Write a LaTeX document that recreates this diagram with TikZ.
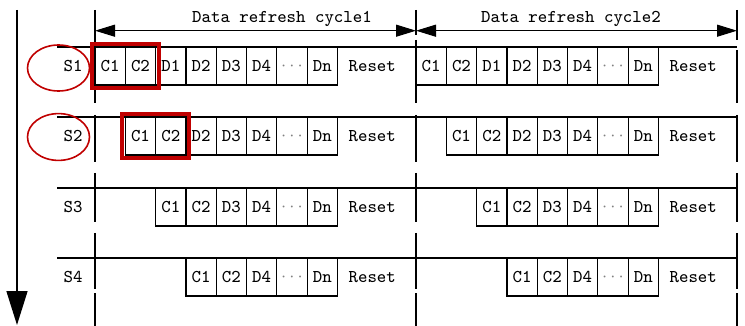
\documentclass[tikz,border=0pt]{standalone}
\usetikzlibrary{positioning,arrows.meta}
\definecolor{hired}{HTML}{C00000}
\tikzset{
  cell/.style={draw, minimum width=15.15pt, minimum height=19pt, inner sep=0pt, outer sep=0pt, font=\ttfamily\fontsize{9}{10}\selectfont},
  txt/.style={inner sep=0pt, font=\ttfamily\fontsize{9}{10}\selectfont},
  hilite/.style={draw=hired, line width=2pt},
  ring/.style={draw=hired, line width=0.8pt},
  span/.style={{Triangle[length=10pt,width=6pt]}-{Triangle[length=10pt,width=6pt]}},
}
\newcommand\dd{\textcolor{gray}{$\cdots$}}
% one row of slots: name, left edge, top, texts
\newcommand\cellrow[4]{%
  \foreach \ct [count=\i] in {#4}
    \node[cell, anchor=north west] (#1-\i) at ({#2+(\i-1)*30.3},#3) {\ct};}

\begin{document}
\begin{tikzpicture}[x=0.5pt, y=-0.5pt, line width=0.6pt]
  \useasboundingbox (0,0) rectangle (745,326);

  % time axis
  \coordinate (top) at (17,10);
  \coordinate (bot) at (17,325);
  \draw[line width=0.75pt, -{Triangle[length=17pt,width=10.5pt]}] (top) -- (bot);

  % cycle borders
  \foreach \y/\z in {10/103,115/162,173/222,233/289,293/326}
    \draw (95,\y) -- (95,\z);
  \foreach \y/\z in {10/35,40/103,115/162,173/222,233/289,293/326}
    \draw (416,\y) -- (416,\z);
  \foreach \y/\z in {10/40,50/103,115/162,173/222,233/289,293/326}
    \draw (737,\y) -- (737,\z);

  % cycle headers
  \coordinate (c0) at (95,30.7);
  \coordinate (c1) at (416,30.7);
  \coordinate (c2) at (737,30.7);
  \draw[span] (c0) -- (c1);
  \draw[span] (c1) -- (c2);
  \node[txt] (h1) at (282,19) {Data refresh cycle1};
  \node[txt] (h2) at (571,19) {Data refresh cycle2};

  % row lines
  \foreach \y in {47,117,188,258}
    \draw (57,\y) -- (737,\y);

  % strips
  \node[txt] (s1) at (73,66) {S1};
  \node[txt] (s2) at (73,136) {S2};
  \node[txt] (s3) at (73,207) {S3};
  \node[txt] (s4) at (73,277) {S4};

  \cellrow{a1}{95}{47}{C1,C2,D1,D2,D3,D4,\dd,Dn}
  \cellrow{b1}{416}{47}{C1,C2,D1,D2,D3,D4,\dd,Dn}
  \cellrow{a2}{125.3}{117}{C1,C2,D2,D3,D4,\dd,Dn}
  \cellrow{b2}{446.3}{117}{C1,C2,D2,D3,D4,\dd,Dn}
  \cellrow{a3}{155.6}{188}{C1,C2,D3,D4,\dd,Dn}
  \cellrow{b3}{476.6}{188}{C1,C2,D3,D4,\dd,Dn}
  \cellrow{a4}{185.9}{258}{C1,C2,D4,\dd,Dn}
  \cellrow{b4}{506.9}{258}{C1,C2,D4,\dd,Dn}

  \node[txt, right=5.3pt of a1-8] (ra1) {Reset};
  \node[txt, right=5.3pt of b1-8] (rb1) {Reset};
  \node[txt, right=5.3pt of a2-7] (ra2) {Reset};
  \node[txt, right=5.3pt of b2-7] (rb2) {Reset};
  \node[txt, right=5.3pt of a3-6] (ra3) {Reset};
  \node[txt, right=5.3pt of b3-6] (rb3) {Reset};
  \node[txt, right=5.3pt of a4-5] (ra4) {Reset};
  \node[txt, right=5.3pt of b4-5] (rb4) {Reset};

  % highlights
  \draw[hilite] ([shift={(-1.5pt,1.5pt)}]a1-1.north west) rectangle ([shift={(1.5pt,-1.5pt)}]a1-2.south east);
  \draw[hilite] ([shift={(-1.5pt,1.5pt)}]a2-1.north west) rectangle ([shift={(1.5pt,-1.5pt)}]a2-2.south east);
  \draw[ring] (58.5,68) ellipse [x radius=15.5pt, y radius=11.5pt];
  \draw[ring] (58.5,137) ellipse [x radius=15.5pt, y radius=11.7pt];
\end{tikzpicture}
\end{document}
